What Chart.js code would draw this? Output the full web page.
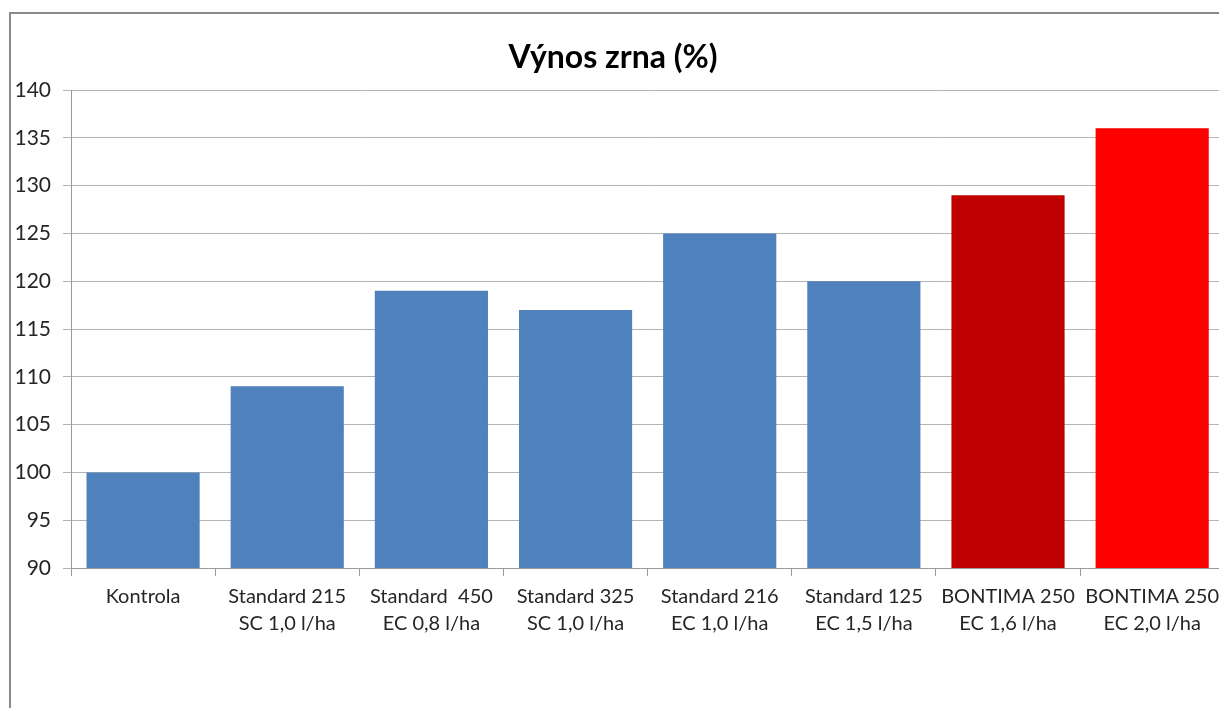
<!DOCTYPE html>
<html>
<head>
<meta charset="utf-8">
<script src="https://cdn.jsdelivr.net/npm/chart.js@4/dist/chart.umd.min.js"></script>
<style>
  html, body { margin: 0; padding: 0; background: #fff; overflow: hidden; width: 1219px; height: 708px; }
  #wrap { position: absolute; left: 0; top: 0; width: 1226px; height: 708px; }
  #frame { position: absolute; left: 9px; top: 12px; width: 1300px; height: 800px; border-left: 2px solid #8a8a8a; border-top: 2px solid #8a8a8a; }
</style>
</head>
<body>
<div id="frame"></div>
<div id="wrap"><canvas id="c" width="1226" height="708"></canvas></div>
<script>
const titleText = 'Výnos zrna (%)';
const categories = [
  ['Kontrola'],
  ['Standard 215', 'SC 1,0 l/ha'],
  ['Standard  450', 'EC 0,8 l/ha'],
  ['Standard 325', 'SC 1,0 l/ha'],
  ['Standard 216', 'EC 1,0 l/ha'],
  ['Standard 125', 'EC 1,5 l/ha'],
  ['BONTIMA 250', 'EC 1,6 l/ha'],
  ['BONTIMA 250', 'EC 2,0 l/ha']
];
const values = [100, 109, 119, 117, 125, 120, 129, 136];
const barColors = ['#4F81BD', '#4F81BD', '#4F81BD', '#4F81BD', '#4F81BD', '#4F81BD', '#C00000', '#FF0000'];
const yMin = 90, yMax = 140, yStep = 5;

const FONT = 'Lato, "Open Sans", sans-serif';

new Chart(document.getElementById('c'), {
  type: 'bar',
  data: {
    labels: categories,
    datasets: [{
      data: values,
      backgroundColor: barColors,
      borderWidth: 0,
      categoryPercentage: 1,
      barPercentage: 0.785
    }]
  },
  options: {
    responsive: false,
    animation: false,
    layout: { padding: { left: 0, right: 0, top: 0, bottom: 0 } },
    plugins: {
      legend: { display: false },
      tooltip: { enabled: false },
      title: {
        display: true,
        text: titleText,
        color: '#000',
        font: { family: FONT, size: 32, weight: 'bold', lineHeight: 1.2 },
        padding: { top: 38, bottom: 13.6 }
      }
    },
    scales: {
      x: {
        grid: { display: true, drawOnChartArea: false, drawTicks: true, tickLength: 8, color: '#9a9a9a', offset: true },
        border: { display: true, color: '#9a9a9a', width: 1 },
        ticks: { color: '#262626', font: { family: FONT, size: 20, lineHeight: 1.35 }, padding: 7, maxRotation: 0, autoSkip: false },
        afterFit: (s) => { s.height = 140; }
      },
      y: {
        min: yMin, max: yMax,
        grid: { color: '#b4b4b4', lineWidth: 1, tickLength: 8, drawTicks: true },
        border: { display: true, color: '#9a9a9a', width: 1 },
        ticks: { stepSize: yStep, color: '#262626', font: { family: FONT, size: 21 }, padding: 12 },
        afterFit: (s) => { s.width = 71; }
      }
    }
  }
});
</script>
</body>
</html>
